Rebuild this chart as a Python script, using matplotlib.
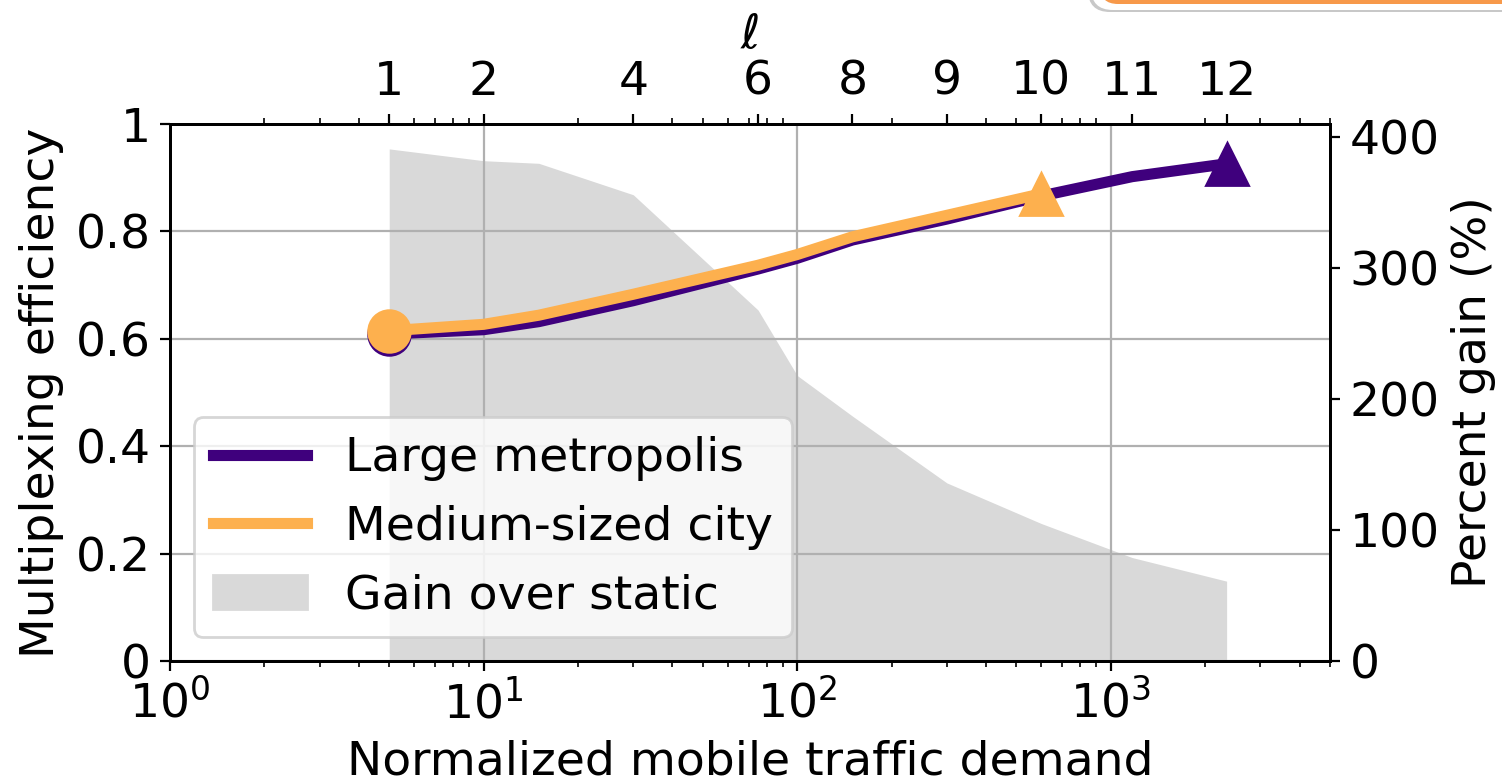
import numpy as np
import matplotlib.pyplot as plt
from matplotlib.patches import FancyBboxPatch, Patch
from matplotlib.lines import Line2D
from matplotlib.transforms import IdentityTransform

# --- Dados ---
demand = [5, 10, 15, 30, 75, 100, 150, 300, 600, 1170, 2340]
eff_large = [0.609, 0.617, 0.632, 0.671, 0.730, 0.750, 0.784, 0.823, 0.866, 0.902, 0.926]
eff_medium = [0.615, 0.627, 0.644, 0.683, 0.737, 0.757, 0.790, 0.830, 0.870]
gain = [391, 382, 380, 356, 268, 218, 187, 136, 105, 79, 61]

ell_pos = [5, 10, 30, 75, 150, 300, 600, 1170, 2340]
ell_labels = ["1", "2", "4", "6", "8", "9", "10", "11", "12"]

eff_ticks = [0, 0.2, 0.4, 0.6, 0.8, 1]
eff_labels = ["0", "0.2", "0.4", "0.6", "0.8", "1"]
gain_ticks = [0, 100, 200, 300, 400]

purple = "#3f007d"
orange = "#fdb04e"
gray = "#d9d9d9"

plt.rcParams["font.size"] = 17
plt.rcParams["axes.linewidth"] = 1.0

fig = plt.figure(figsize=(7.51, 3.905), dpi=200)
ax = fig.add_axes([0.1132, 0.1536, 0.7723, 0.6876])
ax.set_xscale("log")
ax.set_xlim(1, 5000)

# ganho no eixo da direita (fica por baixo)
ax2 = ax.twinx()
ax2.fill_between(demand, 0, gain, color=gray, lw=0)
ax2.set_ylim(0, 410)
ax2.set_yticks(gain_ticks)
ax2.set_ylabel("Percent gain (%)")
ax.set_zorder(ax2.get_zorder() + 1)
ax.patch.set_visible(False)

# eficiencia
ax.plot(demand, eff_large, color=purple, lw=4)
ax.plot([demand[0]], [eff_large[0]], "o", color=purple, ms=15)
ax.plot([demand[-1]], [eff_large[-1]], "^", color=purple, ms=15)
n = len(eff_medium)
ax.plot(demand[:n], eff_medium, color=orange, lw=4)
ax.plot([demand[0]], [eff_medium[0]], "o", color=orange, ms=15)
ax.plot([demand[n - 1]], [eff_medium[-1]], "^", color=orange, ms=15)

ax.set_ylim(0, 1)
ax.set_yticks(eff_ticks)
ax.set_yticklabels(eff_labels)
ax.set_xlabel("Normalized mobile traffic demand")
ax.set_ylabel("Multiplexing efficiency")
ax.grid(True, which="major", color="#b0b0b0", lw=0.8)

handles = [
    Line2D([], [], color=purple, lw=4),
    Line2D([], [], color=orange, lw=4),
    Patch(color=gray),
]
ax.legend(handles, ["Large metropolis", "Medium-sized city", "Gain over static"],
          loc="lower left")

# eixo superior com l
axt = ax.twiny()
axt.set_xscale("log")
axt.set_xlim(ax.get_xlim())
axt.set_xticks(ell_pos)
axt.set_xticklabels(ell_labels)
axt.set_xlabel(r"$\ell$")
axt.set_zorder(ax.get_zorder() + 1)

# caixa laranja no canto superior
tr = IdentityTransform()
fig.add_artist(FancyBboxPatch((1088, 769), 600, 200, boxstyle="round,pad=0,rounding_size=22",
                              fc="#c8c8c8", ec="none", transform=tr))
fig.add_artist(FancyBboxPatch((1091, 771), 600, 200, boxstyle="round,pad=0,rounding_size=22",
                              fc="white", ec="none", transform=tr))
fig.add_artist(FancyBboxPatch((1100, 777), 600, 200, boxstyle="round,pad=0,rounding_size=18",
                              fc="#f7994a", ec="none", transform=tr))

fig.savefig("out.png", dpi=200)
